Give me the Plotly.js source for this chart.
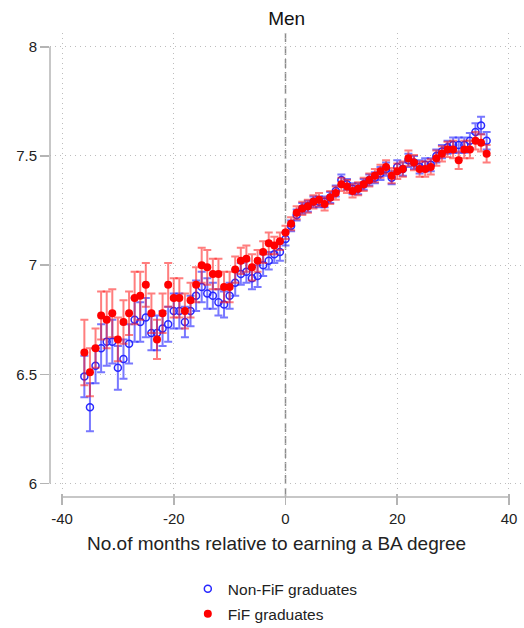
<!DOCTYPE html>
<html>
<head>
<meta charset="utf-8">
<script src="https://cdn.plot.ly/plotly-3.0.1.min.js"></script>
<style>html,body{margin:0;padding:0;background:#fff;}#chart{width:524px;height:628px;}</style>
</head>
<body>
<div id="chart"></div>
<script>
// Months relative to earning a BA degree
const months = [];
for (let m = -36; m <= 36; m++) months.push(m);

// Non-FiF graduates (mean log earnings) and CI half-widths
const nonFifMean = [
  6.49, 6.35, 6.54, 6.62, 6.65, 6.65, 6.53, 6.57, 6.64, 6.75,
  6.74, 6.76, 6.69, 6.69, 6.71, 6.73, 6.79, 6.79, 6.74, 6.79,
  6.86, 6.90, 6.87, 6.86, 6.83, 6.82, 6.86, 6.92, 6.96, 6.97,
  6.94, 6.95, 7.00, 7.02, 7.05, 7.06, 7.12, 7.18, 7.23, 7.26,
  7.27, 7.29, 7.29, 7.29, 7.31, 7.34, 7.39, 7.37, 7.35, 7.35,
  7.37, 7.39, 7.40, 7.42, 7.44, 7.40, 7.45, 7.44, 7.48, 7.47,
  7.45, 7.46, 7.46, 7.50, 7.52, 7.54, 7.55, 7.55, 7.55, 7.57,
  7.61, 7.64, 7.57
];
const nonFifErr = [
  0.095, 0.11, 0.08, 0.11, 0.11, 0.10, 0.10, 0.09, 0.09, 0.10,
  0.09, 0.09, 0.08, 0.08, 0.08, 0.08, 0.08, 0.08, 0.07, 0.07,
  0.07, 0.07, 0.07, 0.06, 0.06, 0.06, 0.06, 0.06, 0.05, 0.05,
  0.05, 0.05, 0.05, 0.04, 0.04, 0.04, 0.03, 0.025, 0.025, 0.025,
  0.025, 0.025, 0.025, 0.025, 0.025, 0.025, 0.025, 0.025, 0.025, 0.025,
  0.025, 0.025, 0.025, 0.03, 0.03, 0.03, 0.03, 0.03, 0.03, 0.03,
  0.03, 0.03, 0.03, 0.03, 0.03, 0.03, 0.035, 0.035, 0.035, 0.035,
  0.04, 0.04, 0.04
];

// FiF graduates
const fifMean = [
  6.60, 6.51, 6.62, 6.77, 6.75, 6.78, 6.66, 6.74, 6.78, 6.85,
  6.86, 6.91, 6.78, 6.66, 6.78, 6.91, 6.85, 6.85, 6.79, 6.84,
  6.91, 7.00, 6.99, 6.96, 6.96, 6.90, 6.90, 6.98, 7.02, 7.03,
  6.99, 7.02, 7.06, 7.10, 7.09, 7.11, 7.15, 7.19, 7.24, 7.26,
  7.27, 7.29, 7.30, 7.28, 7.31, 7.33, 7.37, 7.36, 7.34, 7.35,
  7.37, 7.39, 7.41, 7.43, 7.45, 7.41, 7.43, 7.44, 7.49, 7.47,
  7.44, 7.44, 7.45, 7.49, 7.51, 7.53, 7.53, 7.48, 7.53, 7.53,
  7.57, 7.56, 7.51
];
const fifErr = [
  0.15, 0.11, 0.09, 0.11, 0.13, 0.11, 0.10, 0.10, 0.10, 0.12,
  0.11, 0.10, 0.09, 0.09, 0.09, 0.10, 0.09, 0.09, 0.08, 0.08,
  0.08, 0.08, 0.08, 0.07, 0.07, 0.07, 0.07, 0.06, 0.06, 0.06,
  0.06, 0.05, 0.05, 0.05, 0.04, 0.04, 0.03, 0.03, 0.03, 0.03,
  0.03, 0.03, 0.03, 0.03, 0.03, 0.03, 0.03, 0.03, 0.03, 0.03,
  0.03, 0.03, 0.03, 0.03, 0.03, 0.035, 0.035, 0.035, 0.035, 0.035,
  0.035, 0.035, 0.035, 0.035, 0.035, 0.035, 0.04, 0.04, 0.04, 0.04,
  0.04, 0.04, 0.04
];

const xTickVals = [-40, -20, 0, 20, 40];
const xTickText = ['-40', '-20', '0', '20', '40'];
const yTickVals = [6, 6.5, 7, 7.5, 8];
const yTickText = ['6', '6.5', '7', '7.5', '8'];
const xAxisTitle = 'No.of months relative to earning a BA degree';

const FONT = 'Liberation Sans, Arial, sans-serif';

const traces = [
  {
    x: months, y: nonFifMean, type: 'scatter', mode: 'markers',
    name: 'Non-FiF graduates', legendgroup: 'a',
    marker: {symbol: 'circle-open', size: 7, color: 'rgb(40,40,255)', line: {width: 1.5, color: 'rgb(40,40,255)'}},
    error_y: {type: 'data', array: nonFifErr, visible: true, color: 'rgba(30,30,255,0.6)', thickness: 2, width: 4}
  },
  {
    x: months, y: fifMean, type: 'scatter', mode: 'markers',
    name: 'FiF graduates', legendgroup: 'b',
    marker: {symbol: 'circle', size: 8, color: 'rgb(255,0,0)'},
    error_y: {type: 'data', array: fifErr, visible: true, color: 'rgba(255,20,20,0.55)', thickness: 2, width: 4}
  }
];

const layout = {
  width: 524, height: 628,
  margin: {l: 50, r: 2, t: 33, b: 135},
  paper_bgcolor: '#fff', plot_bgcolor: '#fff',
  font: {family: FONT, color: '#222', size: 15},
  title: {text: 'Men', x: 0.547, xanchor: 'center', y: 0.971, yanchor: 'middle', font: {size: 19, color: '#111', family: FONT}},
  showlegend: true,
  legend: {x: 0.292, xanchor: 'left', yref: 'container', y: 0.089, yanchor: 'top', orientation: 'v', traceorder: 'grouped', tracegroupgap: 2, font: {size: 15.5, color: '#222'}, bgcolor: 'rgba(0,0,0,0)'},
  xaxis: {
    range: [-42.15, 42.33], tickvals: xTickVals, ticktext: xTickText,
    showgrid: true, gridcolor: '#bdbdbd', griddash: '1px,4px', gridwidth: 1,
    zeroline: false, showline: false,
    ticks: 'outside', ticklen: 11, tickwidth: 1.5, tickcolor: '#b4b4b4',
    tickfont: {size: 15, color: '#222'}, ticklabelstandoff: 1,
    automargin: false
  },
  yaxis: {
    range: [5.957, 8.063], tickvals: yTickVals, ticktext: yTickText,
    showgrid: true, gridcolor: '#bdbdbd', griddash: '1px,4px', gridwidth: 1,
    zeroline: false, showline: false,
    ticks: 'outside', ticklen: 9, tickwidth: 1.5, tickcolor: '#b4b4b4',
    tickfont: {size: 15, color: '#222'},
    automargin: false
  },
  annotations: [
    {text: xAxisTitle, xref: 'paper', yref: 'paper', x: 0.479, y: -0.1087, xanchor: 'center', yanchor: 'middle', showarrow: false, font: {size: 19, color: '#222', family: FONT}}
  ],
  shapes: [
    {type: 'line', xref: 'paper', yref: 'y', x0: 0, x1: 0, y0: 6, y1: 8, line: {color: '#b4b4b4', width: 1.5}},
    {type: 'line', xref: 'x', yref: 'paper', x0: -40, x1: 40, y0: -0.0087, y1: -0.0087, line: {color: '#b4b4b4', width: 1.5}},
    {type: 'line', xref: 'x', yref: 'paper', x0: 0, x1: 0, y0: -0.0087, y1: 1, line: {color: '#8c8c8c', width: 1.5, dash: '9px,4px'}, layer: 'below'}
  ]
};

Plotly.newPlot('chart', traces, layout, {displayModeBar: false, staticPlot: true});
</script>
</body>
</html>
